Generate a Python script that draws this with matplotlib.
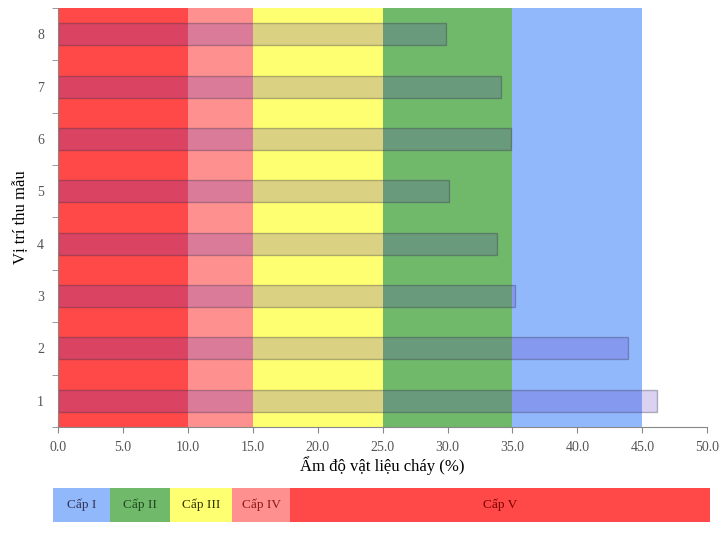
import matplotlib
matplotlib.use("Agg")
import matplotlib.pyplot as plt

plt.rcParams['font.family'] = ['Liberation Serif', 'DejaVu Serif']

# dữ liệu
vi_tri = [1, 2, 3, 4, 5, 6, 7, 8]
do_am = [46.1, 43.9, 35.2, 33.8, 30.1, 34.9, 34.1, 29.9]

# các cấp cháy (ngưỡng độ ẩm)
cap_ten = ['Cấp V', 'Cấp IV', 'Cấp III', 'Cấp II', 'Cấp I']
cap_tu = [0, 10, 15, 25, 35]
cap_den = [10, 15, 25, 35, 45]
cap_mau = ['#ff4848', '#ff9090', '#ffff72', '#70b86a', '#92b8fc']

fig = plt.figure(figsize=(7.23, 5.35), dpi=100)
ax = fig.add_axes([0.0802, 0.202, 0.898, 0.783])

for a, b, c in zip(cap_tu, cap_den, cap_mau):
    ax.axvspan(a, b, color=c, lw=0, zorder=0)

ax.barh(vi_tri, do_am, height=0.42, color=(0.35, 0.2, 0.75, 0.22),
        edgecolor=(0.2, 0.2, 0.3, 0.35), linewidth=1, zorder=2)

ax.set_xlim(0, 50)
ax.set_ylim(0.5, 8.5)
ax.set_xticks(range(0, 51, 5))
ax.set_xticklabels([f"{v:.1f}" for v in range(0, 51, 5)])
ax.set_yticks(vi_tri)
ax.set_yticks([v + 0.5 for v in range(0, 9)], minor=True)
ax.tick_params(axis='y', which='major', length=0, pad=10, labelsize=10, labelcolor='#555555')
ax.tick_params(axis='y', which='minor', length=4, color='#888888')
ax.tick_params(axis='x', length=4, color='#888888', labelsize=10, labelcolor='#555555', pad=6)
for s in ['top', 'right']:
    ax.spines[s].set_visible(False)
ax.spines['bottom'].set_color('#888888')
ax.spines['left'].set_color('#888888')

ax.set_xlabel("Ẩm độ vật liệu cháy (%)", fontsize=12, labelpad=2)
ax.set_ylabel("Vị trí thu mẫu", fontsize=12, labelpad=6)

# thanh chú giải các cấp
lg = fig.add_axes([0.0733, 0.0243, 0.909, 0.0636])
lg_ten = ['Cấp I', 'Cấp II', 'Cấp III', 'Cấp IV', 'Cấp V']
lg_rong = [57, 60, 62, 58, 420]
lg_mau = ['#92b8fc', '#70b86a', '#ffff72', '#ff9090', '#ff4848']
lg_chu = ['#333355', '#1e4a1e', '#333300', '#8b1a1a', '#7a0000']
x0 = 0
for t, w, c, tc in zip(lg_ten, lg_rong, lg_mau, lg_chu):
    lg.barh(0, w, left=x0, height=1, color=c, lw=0)
    lg.text(x0 + w / 2, 0, t, ha='center', va='center', fontsize=9.5, color=tc)
    x0 += w
lg.set_xlim(0, x0)
lg.set_ylim(-0.5, 0.5)
lg.axis('off')

fig.savefig("out.png", dpi=100)
